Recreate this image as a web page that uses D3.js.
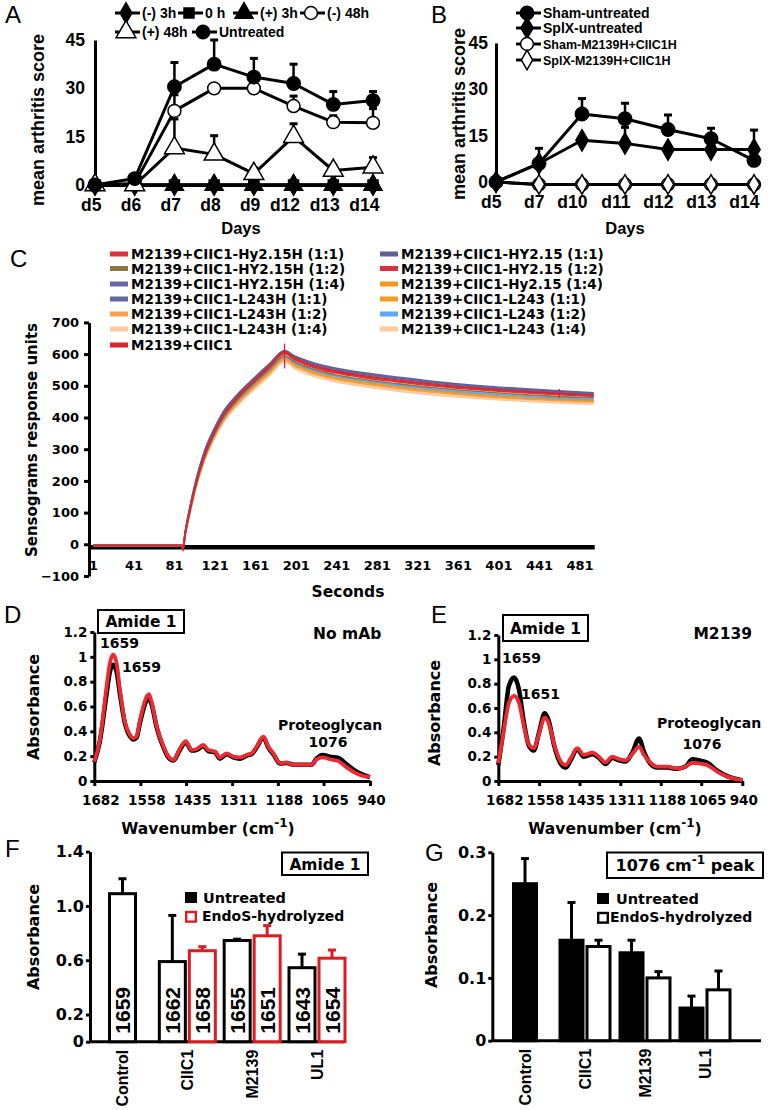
<!DOCTYPE html>
<html><head><meta charset="utf-8">
<script src="https://cdn.jsdelivr.net/npm/d3@7"></script>
<style>body{margin:0;background:#fff;overflow:hidden}svg{display:block}</style>
</head><body>
<svg id="fig" width="768" height="1110"></svg>
<script>
// ---------------- DATA ----------------
// Panel A
const daysA = ["d5","d6","d7","d8","d9","d12","d13","d14"];
const aTicks = [0,15,30,45];
const aMinus3h = [0,0,0,0,0,0,0,0];
const aZeroH = [0,0,0,0,0,0,0,0];
const aPlus3h = [0,0,0,0,0,0,0,0];
const aMinus48h = [0,0.5,23,30,30,24.5,19.5,19.3];
const aMinus48hErr = [null,null,28,null,null,27.6,21.5,23.7];
const aPlus48h = [0,0,11.5,9.5,3.5,15,4.5,5.5];
const aPlus48hErr = [null,null,20.5,15.3,5.3,19,6.2,8.5];
const aUntreated = [0,2,30.5,37.5,33.5,31.5,25,26.2];
const aUntreatedErr = [null,null,38,45,39.3,37.5,29,29];
// Panel B
const daysB = ["d5","d7","d10","d11","d12","d13","d14"];
const bTicks = [0,15,30,45];
const bShamUntreated = [0,6,22,20.5,17,14,7];
const bShamUntreatedErr = [null,10.9,27,25.5,21.7,17.4,null];
const bSplxUntreated = [0,6,13.5,12.5,10.5,10.5,10.5];
const bSplxUntreatedErr = [null,null,null,17.7,null,null,16.8];
const bShamTreated = [0,-0.8,-0.8,-0.8,-0.8,-0.8,-0.8];
const bSplxTreated = [0,-0.8,-0.8,-0.8,-0.8,-0.8,-0.8];
// Panel C (sensograms)
const cTicksX = [1,41,81,121,161,201,241,281,321,361,401,441,481];
const cTicksY = [-100,0,100,200,300,400,500,600,700];
const cTimes = [1,88,90,92,96,102,110,120,130,145,160,175,190,200,215,240,270,300,340,380,420,460,495];
const cNames = ["M2139+CIIC1-Hy2.15H (1:1)","M2139+CIIC1-HY2.15H (1:2)","M2139+CIIC1-HY2.15H (1:4)",
  "M2139+CIIC1-L243H (1:1)","M2139+CIIC1-L243H (1:2)","M2139+CIIC1-L243H (1:4)","M2139+CIIC1",
  "M2139+CIIC1-HY2.15 (1:1)","M2139+CIIC1-HY2.15 (1:2)","M2139+CIIC1-Hy2.15 (1:4)",
  "M2139+CIIC1-L243 (1:1)","M2139+CIIC1-L243 (1:2)","M2139+CIIC1-L243 (1:4)"];
const cHy215H_11 = [-4,-4,-5,35,99,184,271,349,408,468,515,560,604,585,565,544,528,516,501,490,481,474,469];
const cHY215H_12 = [-5,-5,-6,33,96,180,266,343,402,461,508,552,595,576,556,535,519,507,493,482,473,466,462];
const cHY215H_14 = [-3,-3,-4,39,106,193,282,359,418,476,523,567,610,592,574,553,537,525,510,498,489,481,476];
const cL243H_11 = [-3,-3,-4,38,105,191,280,357,416,474,521,565,608,590,572,551,535,523,508,496,487,479,474];
const cL243H_12 = [-6,-6,-7,30,92,173,258,334,391,449,495,539,582,562,542,521,505,492,478,467,459,453,449];
const cL243H_14 = [-6,-6,-8,28,89,169,253,328,385,442,488,531,575,554,534,513,497,484,470,460,452,446,442];
const cCIIC1 = [-4,-4,-20,35,100,185,272,350,410,470,517,562,607,588,568,547,531,519,504,493,484,476,471];
const cHY215_11 = [-3,-3,-4,40,108,195,285,362,421,478,525,569,611,594,576,556,540,528,513,501,492,484,478];
const cHY215_12 = [-4,-4,-5,34,98,183,270,347,406,466,513,558,601,582,562,541,525,513,499,488,479,472,467];
const cHy215_14 = [-5,-5,-6,31,94,176,262,338,396,455,501,545,588,568,548,527,511,498,484,473,464,458,454];
const cL243_11 = [-5,-5,-6,31,93,175,261,337,395,453,499,543,586,566,546,525,509,496,482,471,462,456,452];
const cL243_12 = [-5,-5,-6,32,95,178,264,341,399,458,505,549,592,572,552,531,515,502,488,477,468,461,457];
const cL243_14 = [-6,-6,-7,29,90,171,255,331,388,445,491,534,578,557,537,516,500,487,473,463,455,449,445];
const cSpikes = [[190,555,633],[461,462,490]];
// Panels D, E (FTIR spectra)
const specTicks = [1682,1558,1435,1311,1188,1065,940];
const specYTicks = [0,0.2,0.4,0.6,0.8,1,1.2];
const dWn = [1682,1667,1649,1640,1631,1622,1613,1600,1586,1577,1568,1559,1541,1535,1528,1514,1496,1483,1469,1451,1436,1420,1407,1389,1375,1357,1344,1326,1308,1290,1272,1259,1245,1227,1214,1200,1182,1164,1146,1128,1097,1084,1067,1048,1025,1003,976,954,940];
const dRed = [0.156,0.33,0.76,0.95,1.017,0.95,0.735,0.48,0.37,0.345,0.36,0.49,0.68,0.70,0.64,0.44,0.28,0.20,0.17,0.264,0.32,0.25,0.256,0.29,0.25,0.237,0.19,0.223,0.197,0.19,0.21,0.223,0.277,0.358,0.277,0.223,0.143,0.148,0.13,0.13,0.13,0.175,0.19,0.175,0.16,0.11,0.06,0.038,0.035];
const dBlack = [0.15,0.32,0.70,0.88,0.937,0.88,0.70,0.47,0.36,0.335,0.35,0.47,0.65,0.665,0.62,0.43,0.27,0.19,0.165,0.255,0.31,0.245,0.25,0.28,0.24,0.23,0.18,0.215,0.19,0.18,0.205,0.215,0.27,0.35,0.27,0.215,0.14,0.145,0.13,0.13,0.13,0.18,0.21,0.195,0.185,0.135,0.075,0.045,0.03];
const eWn = [1682,1665,1650,1634,1619,1604,1589,1574,1558,1541,1528,1513,1492,1477,1462,1442,1422,1396,1376,1356,1335,1315,1295,1275,1254,1239,1219,1199,1168,1138,1112,1092,1072,1046,1016,986,955,940];
const eRed = [0.145,0.42,0.64,0.70,0.64,0.45,0.30,0.27,0.39,0.52,0.47,0.31,0.16,0.13,0.186,0.27,0.214,0.233,0.20,0.153,0.20,0.18,0.17,0.22,0.28,0.214,0.15,0.118,0.118,0.104,0.118,0.15,0.145,0.13,0.077,0.036,0.014,0.008];
const eBlack = [0.13,0.45,0.78,0.85,0.75,0.48,0.29,0.25,0.40,0.556,0.49,0.30,0.14,0.11,0.17,0.26,0.20,0.22,0.19,0.14,0.19,0.17,0.16,0.23,0.35,0.24,0.14,0.11,0.11,0.10,0.12,0.178,0.17,0.15,0.085,0.04,0.015,0.005];
// Panels F, G (bars)
const groups = ["Control","CIIC1","M2139","UL1"];
const fTicks = [0,0.2,0.6,1.0,1.4];
const fUntreated = [1.09,0.59,0.745,0.545];
const fUntreatedErr = [1.20,0.93,0.755,0.645];
const fEndoS = [null,0.67,0.78,0.615];
const fEndoSErr = [null,0.70,0.855,0.675];
const fPeakUntreated = ["1659","1662","1655","1643"];
const fPeakEndoS = [null,"1658","1651","1654"];
const gTicks = [0,0.1,0.2,0.3];
const gUntreated = [0.25,0.16,0.14,0.052];
const gUntreatedErr = [0.29,0.22,0.16,0.071];
const gEndoS = [null,0.15,0.10,0.081];
const gEndoSErr = [null,0.16,0.11,0.111];

// ---------------- DRAWING ----------------
const svg = d3.select("#fig");
const HV = '"Liberation Sans", Arial, Helvetica, sans-serif';
const VD = '"DejaVu Sans", Verdana, sans-serif';
const RED = "#e3222a";

function label(p, x, y, s, size, fam, anchor="start", weight="bold", rot=0){
  const t = p.append("text").attr("font-family",fam).attr("font-size",size).attr("font-weight",weight)
    .attr("text-anchor",anchor).attr("fill","#000");
  if(rot) t.attr("transform",`translate(${x},${y}) rotate(${rot})`); else t.attr("x",x).attr("y",y);
  t.text(s); return t;
}
function styleAxis(g, fam, size, sw){
  g.attr("font-family",null).attr("font-size",null);
  g.select(".domain").attr("stroke","#000").attr("stroke-width",sw);
  g.selectAll(".tick line").attr("stroke","#000").attr("stroke-width",sw);
  g.selectAll(".tick text").attr("font-family",fam).attr("font-size",size).attr("font-weight","bold").attr("fill","#000");
}
// panel letters
[["A",5,23],["B",431,23],["C",10,267],["D",4,623],["E",431,623],["F",5,857],["G",425,861]]
  .forEach(([s,x,y])=>label(svg,x,y,s,24,HV,"start","normal"));

// ---------- A & B ----------
function lineChart(g, x, y, days, series){
  const line = d3.line().x(d=>x(d[0])).y(d=>y(d[1]));
  series.forEach(s=>{
    g.append("path").attr("d",line(days.map((d,i)=>[d,s.v[i]]))).attr("fill","none")
      .attr("stroke","#000").attr("stroke-width",3).attr("stroke-linejoin","round");
  });
  series.forEach(s=>{ if(!s.err) return;
    days.forEach((d,i)=>{ if(s.err[i]==null) return;
      g.append("line").attr("x1",x(d)).attr("x2",x(d)).attr("y1",y(s.v[i])).attr("y2",y(s.err[i])).attr("stroke","#000").attr("stroke-width",2.5);
      g.append("line").attr("x1",x(d)-4).attr("x2",x(d)+4).attr("y1",y(s.err[i])).attr("y2",y(s.err[i])).attr("stroke","#000").attr("stroke-width",3);
    });
  });
  series.forEach(s=>{
    days.forEach((d,i)=>{
      g.append("path").attr("d",d3.symbol(s.sym,s.size)()).attr("transform",`translate(${x(d)},${y(s.v[i])})`)
        .attr("fill",s.fill).attr("stroke","#000").attr("stroke-width",1.5);
    });
  });
}
function legendItem(g, s, x, y, fs){
  g.append("line").attr("x1",x).attr("x2",x+25).attr("y1",y).attr("y2",y).attr("stroke","#000").attr("stroke-width",3);
  g.append("path").attr("d",d3.symbol(s.sym,s.size)()).attr("transform",`translate(${x+11},${y})`)
    .attr("fill",s.fill).attr("stroke","#000").attr("stroke-width",1.5);
  label(g, x+27, y+5, s.name, fs, HV);
}

// Panel A
{
  const g = svg.append("g");
  const x = d3.scalePoint().domain(daysA).range([95,373]);
  const y = d3.scaleLinear().domain([0,45]).range([185,40]);
  g.append("g").attr("transform","translate(95,0)")
    .call(d3.axisLeft(y).tickValues(aTicks).tickSize(0).tickSizeOuter(0).tickPadding(10))
    .call(a=>styleAxis(a,HV,17.5,3));
  g.append("g").attr("transform","translate(0,185)")
    .call(d3.axisBottom(x).tickSize(0).tickSizeOuter(0).tickPadding(14))
    .call(a=>{styleAxis(a,HV,17.5,3); a.selectAll(".tick text").attr("text-anchor","end").attr("dx",6);});
  const S = [
    {name:"(-) 3h",v:aMinus3h,err:null,sym:d3.symbolDiamond,fill:"#000",size:120},
    {name:"0 h",v:aZeroH,err:null,sym:d3.symbolSquare,fill:"#000",size:100},
    {name:"(+) 3h",v:aPlus3h,err:null,sym:d3.symbolTriangle,fill:"#000",size:140},
    {name:"(-) 48h",v:aMinus48h,err:aMinus48hErr,sym:d3.symbolCircle,fill:"#fff",size:130},
    {name:"(+) 48h",v:aPlus48h,err:aPlus48hErr,sym:d3.symbolTriangle,fill:"#fff",size:170},
    {name:"Untreated",v:aUntreated,err:aUntreatedErr,sym:d3.symbolCircle,fill:"#000",size:140}];
  lineChart(g,x,y,daysA,S);
  const pos = [[115,13],[178,13],[233,13],[300,13],[115,32],[192,32]];
  S.forEach((s,i)=>legendItem(g,s,pos[i][0],pos[i][1],14));
  label(g,38,120,"mean arthritis score",18,HV,"middle","bold",-90).attr("dominant-baseline","central");
  label(g,241,234,"Days",16.5,HV,"middle");
}
// Panel B
{
  const g = svg.append("g");
  const x = d3.scalePoint().domain(daysB).range([496,754]);
  const y = d3.scaleLinear().domain([0,45]).range([182,43]);
  g.append("g").attr("transform","translate(496,0)")
    .call(d3.axisLeft(y).tickValues(bTicks).tickSize(0).tickSizeOuter(0).tickPadding(8))
    .call(a=>styleAxis(a,HV,17.5,3));
  g.append("g").attr("transform","translate(0,185)")
    .call(d3.axisBottom(x).tickSize(0).tickSizeOuter(0).tickPadding(11))
    .call(a=>{styleAxis(a,HV,17.5,0); a.select(".domain").remove(); a.selectAll(".tick text").attr("text-anchor","end").attr("dx",5);});
  const S = [
    {name:"Sham-M2139H+CIIC1H",v:bShamTreated,err:null,sym:d3.symbolCircle,fill:"#fff",size:130},
    {name:"SplX-M2139H+CIIC1H",v:bSplxTreated,err:null,sym:d3.symbolDiamond,fill:"#fff",size:110},
    {name:"SplX-untreated",v:bSplxUntreated,err:bSplxUntreatedErr,sym:d3.symbolDiamond,fill:"#000",size:130},
    {name:"Sham-untreated",v:bShamUntreated,err:bShamUntreatedErr,sym:d3.symbolCircle,fill:"#000",size:140}];
  lineChart(g,x,y,daysB,S);
  legendItem(g,S[3],516,13,14);
  legendItem(g,S[2],516,28,14);
  legendItem(g,S[0],516,44,12.5);
  legendItem(g,S[1],516,60,12.5);
  label(g,459,114,"mean arthritis score",18,HV,"middle","bold",-90).attr("dominant-baseline","central");
  label(g,625,234,"Days",16.5,HV,"middle");
}

// ---------- C ----------
{
  const g = svg.append("g");
  const x = d3.scaleLinear().domain([1,496]).range([93,594.7]);
  const y = d3.scaleLinear().domain([-100,700]).range([576,322.4]);
  g.append("g").attr("transform","translate(89,0)")
    .call(d3.axisLeft(y).tickValues(cTicksY).tickSize(5).tickSizeOuter(0).tickPadding(5))
    .call(a=>styleAxis(a,VD,13,3));
  g.append("g").attr("transform",`translate(0,${y(0)+3})`)
    .call(d3.axisBottom(x).tickValues(cTicksX).tickSize(0).tickSizeOuter(0).tickPadding(13).tickFormat(d3.format("d")))
    .call(a=>{styleAxis(a,VD,13,4.5); a.select(".domain").attr("d",`M${x(1)-4},0H${x(496)}`);});
  const all = [cHy215H_11,cHY215H_12,cHY215H_14,cL243H_11,cL243H_12,cL243H_14,cCIIC1,cHY215_11,cHY215_12,cHy215_14,cL243_11,cL243_12,cL243_14];
  const colors = ["#d9343b","#8c7444","#6b66ab","#66669e","#f6a24a","#fcc9a0","#d6262e","#5c5f98","#d8313a","#f7951f","#f49b25","#5ea8f2","#fbcb9e"];
  const order = [5,12,4,10,9,11,1,3,2,7,8,0,6];
  const line = d3.line().x((d,i)=>x(cTimes[i])).y(d=>y(d)).curve(d3.curveMonotoneX);
  order.forEach(k=>{
    g.append("path").attr("d",line(all[k])).attr("fill","none").attr("stroke",colors[k]).attr("stroke-width",1.6);
  });
  cSpikes.forEach(s=>g.append("line").attr("x1",x(s[0])).attr("x2",x(s[0])).attr("y1",y(s[1])).attr("y2",y(s[2])).attr("stroke",RED).attr("stroke-width",1.3));
  // legend
  const rows = [254,268.5,284,299,314,329,345];
  cNames.forEach((n,i)=>{
    const col = i<7?0:1, r = i<7?i:i-7;
    const sx = col? 380:110, yy = rows[r];
    g.append("rect").attr("x",sx).attr("y",yy-2.5).attr("width",18).attr("height",5).attr("fill",colors[i]);
    label(g,sx+21,yy+5,n,13.5,VD);
  });
  label(g,32,440,"Sensograms response units",15,VD,"middle","bold",-90).attr("dominant-baseline","central");
  label(g,348,597,"Seconds",15.5,VD,"middle");
}

// ---------- D & E ----------
function spectrum(p, x0, x1, yTop, wn, blk, red, opts){
  const g = p.append("g");
  const x = d3.scaleLinear().domain([1682,940]).range([x0,x1]);
  const y = d3.scaleLinear().domain([0,1.2]).range([781,yTop]);
  g.append("g").attr("transform",`translate(${x0},0)`)
    .call(d3.axisLeft(y).tickValues(specYTicks).tickSize(4).tickSizeOuter(0).tickPadding(3).tickFormat(d=>d===0?"0":d===1?"1":d3.format(".1f")(d)))
    .call(a=>styleAxis(a,VD,13.5,3));
  g.append("g").attr("transform","translate(0,781)")
    .call(d3.axisBottom(x).tickValues(specTicks).tickSize(5).tickSizeOuter(0).tickPadding(9).tickFormat(d3.format("d")))
    .call(a=>{styleAxis(a,VD,13.5,3); a.selectAll(".tick text").attr("dx",(d,i)=>i===specTicks.length-1?1:6);});
  const line = d3.line().x(d=>x(d[0])).y(d=>y(d[1])).curve(d3.curveMonotoneX);
  g.append("path").attr("d",line(wn.map((w,i)=>[w,blk[i]]))).attr("fill","none").attr("stroke","#000").attr("stroke-width",4.5);
  g.append("path").attr("d",line(wn.map((w,i)=>[w,red[i]]))).attr("fill","none").attr("stroke","#ee2a30").attr("stroke-width",3.8);
  const b = opts.box;
  g.append("rect").attr("x",b[0]).attr("y",b[1]).attr("width",b[2]).attr("height",b[3]).attr("fill","#fff").attr("stroke","#000").attr("stroke-width",2);
  label(g,b[0]+b[2]/2,b[1]+b[3]/2+5.5,"Amide 1",15.5,VD,"middle");
  opts.texts.forEach(t=>label(g,t[0],t[1],t[2],t[3],VD,t[4]));
  label(g,opts.ylab[0],opts.ylab[1],"Absorbance",16,VD,"middle","bold",-90).attr("dominant-baseline","central");
  const w = label(g,opts.xlab,834,"Wavenumber (cm",15.5,VD,"middle");
  w.append("tspan").attr("dy",-7).attr("font-size",12).text("-1");
  w.append("tspan").attr("dy",7).text(")");
}
spectrum(svg,94.3,370,632,dWn,dBlack,dRed,{box:[98,610,86,23],
  texts:[[313,639,"No mAb",15.5,"start"],[100,648,"1659",14,"start"],[122,672,"1659",14,"start"],[278,730,"Proteoglycan",14,"start"],[328,747,"1076",14,"middle"]],
  ylab:[33,707],xlab:208});
spectrum(svg,498.3,742.3,635,eWn,eBlack,eRed,{box:[503,615,85,26],
  texts:[[752,639,"M2139",15.5,"end"],[502,663,"1659",14,"start"],[521,699,"1651",14,"start"],[657,728,"Proteoglycan",14,"start"],[702,749,"1076",14,"middle"]],
  ylab:[434,713],xlab:615});

// ---------- F & G ----------
function barChart(p, o){
  const g = p.append("g");
  const y = d3.scaleLinear().domain(o.dom).range([o.y0,o.yTop]);
  const xc = d3.scalePoint().domain(groups).range(o.cRange);
  g.append("g").attr("transform",`translate(${o.ax},0)`)
    .call(d3.axisLeft(y).tickValues(o.ticks).tickSize(4).tickSizeOuter(0).tickPadding(2).tickFormat(o.fmt))
    .call(a=>styleAxis(a,VD,16,3));
  g.append("line").attr("x1",o.ax).attr("x2",o.axEnd).attr("y1",o.y0).attr("y2",o.y0).attr("stroke","#000").attr("stroke-width",3);
  const bw = o.bw;
  function bar(cx, v, e, fill, stroke, txt){
    g.append("line").attr("x1",cx).attr("x2",cx).attr("y1",y(v)).attr("y2",y(e)).attr("stroke",stroke).attr("stroke-width",3);
    g.append("line").attr("x1",cx-4).attr("x2",cx+4).attr("y1",y(e)).attr("y2",y(e)).attr("stroke",stroke).attr("stroke-width",3);
    g.append("rect").attr("x",cx-bw/2+1.5).attr("y",y(v)).attr("width",bw-3).attr("height",o.y0-y(v)).attr("fill",fill).attr("stroke",stroke).attr("stroke-width",3);
    if(txt) label(g,cx,o.y0-8,txt,21,HV,"start","bold",-90).attr("dy","0.36em");
  }
  groups.forEach((k,i)=>{
    const c = xc(k);
    if(o.en[i]==null){ bar(c,o.un[i],o.unE[i],o.unFill,"#000",o.unTxt&&o.unTxt[i]); }
    else {
      bar(c-bw/2-0.5,o.un[i],o.unE[i],o.unFill,"#000",o.unTxt&&o.unTxt[i]);
      bar(c+bw/2+0.5,o.en[i],o.enE[i],"#fff",o.enStroke,o.enTxt&&o.enTxt[i]);
    }
    label(g,c,o.y0+8,k,16,HV,"end","bold",-90).attr("dy","0.36em");
  });
  label(g,o.ylab[0],o.ylab[1],"Absorbance",16,VD,"middle","bold",-90).attr("dominant-baseline","central");
  const L = o.leg;
  g.append("rect").attr("x",L[0]).attr("y",L[1]).attr("width",12).attr("height",11).attr("fill","#000");
  label(g,L[2],L[1]+11,"Untreated",14.5,VD);
  g.append("rect").attr("x",L[0]+1.2).attr("y",L[1]+20).attr("width",9.6).attr("height",9.6).attr("fill","#fff").attr("stroke",o.enStroke).attr("stroke-width",2.4);
  label(g,L[3],L[1]+29,"EndoS-hydrolyzed",14,VD);
  return g;
}
{
  const g = barChart(svg,{dom:[0,1.4],y0:1041.7,yTop:851.6,ax:90,axEnd:344,cRange:[122.5,317],bw:29,
    ticks:fTicks,fmt:d=>d===0?"0":d3.format(".1f")(d),un:fUntreated,unE:fUntreatedErr,en:fEndoS,enE:fEndoSErr,
    unFill:"#fff",enStroke:"#dd1c22",unTxt:fPeakUntreated,enTxt:fPeakEndoS,ylab:[33,937],leg:[185,892,203,202]});
  g.append("rect").attr("x",282).attr("y",852.5).attr("width",86).attr("height",22.5).attr("fill","#fff").attr("stroke","#000").attr("stroke-width",2);
  label(g,325,869.5,"Amide 1",15.5,VD,"middle");
}
{
  const g = barChart(svg,{dom:[0,0.3],y0:1040.7,yTop:852.3,ax:492.3,axEnd:761,cRange:[525,705],bw:26,
    ticks:gTicks,fmt:d=>d===0?"0":d3.format(".1f")(d),un:gUntreated,unE:gUntreatedErr,en:gEndoS,enE:gEndoSErr,
    unFill:"#000",enStroke:"#000",unTxt:null,enTxt:null,ylab:[431,935],leg:[597,893,616,610]});
  g.append("rect").attr("x",607).attr("y",852.5).attr("width",156).attr("height",25.5).attr("fill","#fff").attr("stroke","#000").attr("stroke-width",2);
  const t = label(g,685,871,"1076 cm",16,VD,"middle");
  t.append("tspan").attr("dy",-7).attr("font-size",12).text("-1");
  t.append("tspan").attr("dy",7).text(" peak");
}
</script>
</body></html>
